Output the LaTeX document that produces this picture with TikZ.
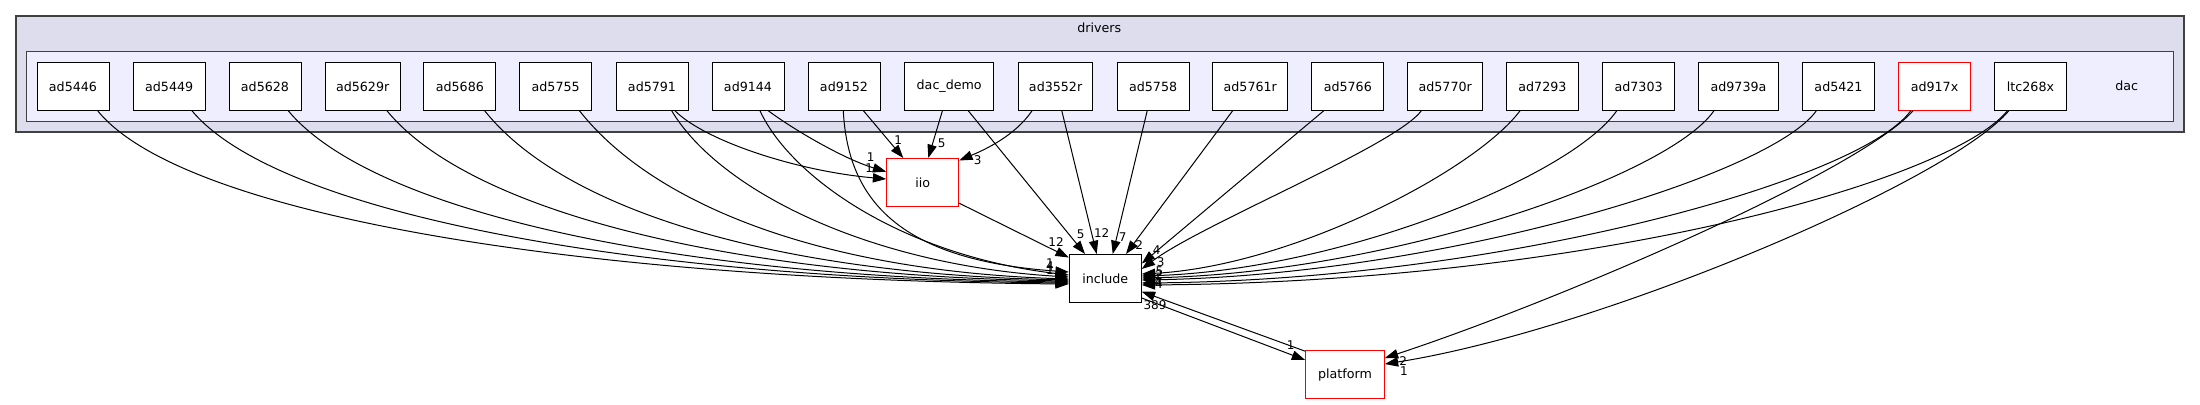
\documentclass[tikz,border=0pt]{standalone}
\usepackage{fontspec}
\setmainfont{DejaVu Sans}
\usetikzlibrary{arrows.meta,calc}
\definecolor{outerfill}{HTML}{DDDDEE}
\definecolor{innerfill}{HTML}{EEEEFF}
\definecolor{clborder}{HTML}{404040}
\begin{document}
\begin{tikzpicture}[x=0.75pt,y=-0.75pt,
  dirnode/.style={draw=black, fill=white, line width=0.75pt, minimum width=54pt, minimum height=36pt, inner sep=0pt, font=\fontsize{9.5}{11}\selectfont},
  rednode/.style={dirnode, draw=red},
  lbl/.style={font=\fontsize{9}{10}\selectfont, inner sep=0pt},
  cltext/.style={font=\fontsize{9.5}{11}\selectfont, inner sep=0pt},
  dep/.style={line width=0.75pt, -{Triangle[length=10pt,width=7pt]}},
  outercl/.style={draw=clborder, fill=outerfill, line width=1.3pt},
  innercl/.style={draw=clborder, fill=innerfill, line width=1pt}
]
\useasboundingbox (0,0) rectangle (2200,404);
% clusters
\draw[outercl] (15.7,15.7) rectangle (2184,132);
\draw[innercl] (26.3,51.7) rectangle (2173.3,121.3);
\node[cltext] (drv) at (1099.3,27.3) {drivers};
\node[cltext] (dac) at (2126.7,86) {dac};
% top row
\node[dirnode] (n5446) at (73,86.3) {ad5446};
\node[dirnode] (n5449) at (169.2,86.3) {ad5449};
\node[dirnode] (n5628) at (265,86.3) {ad5628};
\node[dirnode, minimum width=56.25pt] (n5629r) at (362.7,86.3) {ad5629r};
\node[dirnode] (n5686) at (459.9,86.3) {ad5686};
\node[dirnode] (n5755) at (555.7,86.3) {ad5755};
\node[dirnode] (n5791) at (652,86.3) {ad5791};
\node[dirnode] (n9144) at (748,86.3) {ad9144};
\node[dirnode] (n9152) at (844,86.3) {ad9152};
\node[dirnode, minimum width=66.9pt] (ndemo) at (949.2,86.3) {dac\_demo};
\node[dirnode, minimum width=56pt] (n3552r) at (1055.6,86.3) {ad3552r};
\node[dirnode] (n5758) at (1153.1,86.3) {ad5758};
\node[dirnode, minimum width=56.25pt] (n5761r) at (1250.3,86.3) {ad5761r};
\node[dirnode] (n5766) at (1347.8,86.3) {ad5766};
\node[dirnode, minimum width=56.25pt] (n5770r) at (1445.2,86.3) {ad5770r};
\node[dirnode] (n7293) at (1542.4,86.3) {ad7293};
\node[dirnode] (n7303) at (1638.6,86.3) {ad7303};
\node[dirnode, minimum width=59.5pt] (n9739a) at (1738.5,86.3) {ad9739a};
\node[dirnode] (n5421) at (1838.5,86.3) {ad5421};
\node[rednode] (n917x) at (1934.5,86.3) {ad917x};
\node[dirnode] (nltc) at (2030.5,86.3) {ltc268x};
% lower nodes
\node[rednode] (iio) at (922.7,182.5) {iio};
\node[dirnode] (inc) at (1105.3,278.5) {include};
\node[rednode, minimum width=59pt] (plat) at (1345,374.7) {platform};

% left group -> include (west)
\draw[dep] ($(n5446.south)+(24.7,0)$) .. controls +(85,105) and +(-486,-4) .. ($(inc.west)+(0,5.5)$);
\draw[dep] ($(n5449.south)+(22.8,0)$) .. controls +(85,102) and +(-439,-4) .. ($(inc.west)+(0,4.5)$);
\draw[dep] ($(n5628.south)+(23.3,0)$) .. controls +(85,102) and +(-390,-4) .. ($(inc.west)+(0,3.5)$);
\draw[dep] ($(n5629r.south)+(24.3,0)$) .. controls +(82,100) and +(-341,-5) .. ($(inc.west)+(0,2.5)$);
\draw[dep] ($(n5686.south)+(24.8,0)$) .. controls +(80,100) and +(-292,-6) .. ($(inc.west)+(0,1.5)$);
\draw[dep] ($(n5755.south)+(23.8,0)$) .. controls +(75,95) and +(-245,-8) .. ($(inc.west)+(0,0.5)$);
\draw[dep] ($(n5791.south)+(19.7,0)$) .. controls +(48,80) and +(-199,-12) .. ($(inc.west)+(0,-1.5)$);
\draw[dep] ($(n9144.south)+(12,0)$) .. controls +(30,65) and +(-169,-20) .. ($(inc.west)+(0,-3.5)$);
\draw[dep] ($(n9152.south)+(-0.7,0)$) .. controls +(4.7,90) and +(-169,-12) .. ($(inc.west)+(0,-6.5)$);
% -> iio
\draw[dep] ($(n5791.south)+(23,0)$) .. controls +(30,30) and +(-90,-8) .. ($(iio.west)+(0,-3.5)$);
\draw[dep] ($(n9144.south)+(20.3,0)$) .. controls +(30,22) and +(-40,-12) .. ($(iio.west)+(0,-10.8)$);
\draw[dep] ($(n9152.south)+(19.5,0)$) -- ($(iio.north)+(-19.4,0)$);
\draw[dep] ($(ndemo.south)+(-6.8,0)$) -- ($(iio.north)+(5.6,0)$);
\draw[dep] ($(n3552r.south)+(-23.6,0)$) .. controls +(-17,25) and +(26,-11) .. ($(iio.north east)+(0,2.5)$);
% middle -> include (north)
\draw[dep] ($(iio.south east)+(0,-3.8)$) -- ($(inc.north west)+(0,3.5)$);
\draw[dep] ($(ndemo.south)+(19.1,0)$) -- ($(inc.north)+(-20.3,0)$);
\draw[dep] ($(n3552r.south)+(6.2,0)$) -- ($(inc.north)+(-8.6,0)$);
\draw[dep] ($(n5758.south)+(-5.9,0)$) -- ($(inc.north)+(7.4,0)$);
\draw[dep] ($(n5761r.south)+(-17.7,0)$) -- ($(inc.north)+(20.7,0)$);
\draw[dep] ($(n5766.south)+(-24.1,0)$) -- ($(inc.north east)+(0,9.5)$);
% right group -> include (east)
\draw[dep] ($(n5770r.south)+(-23.9,0)$) .. controls +(-26,35) and +(60,-45) .. ($(inc.east)+(0,-9.5)$);
\draw[dep] ($(n7293.south)+(-22.4,0)$) .. controls +(-45,60) and +(150,-8) .. ($(inc.east)+(0,-4.5)$);
\draw[dep] ($(n7303.south)+(-21.9,0)$) .. controls +(-45,65) and +(200,-6) .. ($(inc.east)+(0,-2.5)$);
\draw[dep] ($(n9739a.south)+(-24.6,0)$) .. controls +(-45,65) and +(250,-5) .. ($(inc.east)+(0,-0.5)$);
\draw[dep] ($(n5421.south)+(-22.2,0)$) .. controls +(-46,65) and +(300,-5) .. ($(inc.east)+(0,1.5)$);
\draw[dep] ($(n917x.south)+(-23.8,0)$) .. controls +(-50.7,70) and +(360,-3) .. ($(inc.east)+(0,4.5)$);
\draw[dep] ($(nltc.south)+(-23.1,0)$) .. controls +(-57,70) and +(450,-3) .. ($(inc.east)+(0,6.5)$);
% -> platform
\draw[dep] ($(n917x.south)+(-21.5,0)$) .. controls +(-53,60) and +(175.7,-58) .. ($(plat.east)+(0,-16.7)$);
\draw[dep] ($(nltc.south)+(-21.7,0)$) .. controls +(-58.8,70) and +(215.7,-34) .. ($(plat.east)+(0,-10.7)$);
% include <-> platform
\draw[dep] ($(plat.north west)+(0,1)$) -- ($(inc.east)+(0,13.2)$);
\draw[dep] ($(inc.east)+(0,19.5)$) -- ($(plat.west)+(0,-14.7)$);

% head labels
\node[lbl] (l1) at (869.3,168.3) {1};
\node[lbl] (l2) at (870.7,156.7) {1};
\node[lbl] (l3) at (898.3,140) {1};
\node[lbl] (l4) at (941.7,143.3) {5};
\node[lbl] (l5) at (977.7,160) {3};
\node[lbl] (l6) at (1056,241.7) {12};
\node[lbl] (l7) at (1080.7,234) {5};
\node[lbl] (l8) at (1101.7,232.7) {12};
\node[lbl] (l9) at (1122.7,237) {7};
\node[lbl] (l10) at (1139.3,245) {2};
\node[lbl] (l11) at (1156.7,250) {4};
\node[lbl] (l12) at (1160.7,262) {3};
\node[lbl] (l13) at (1159.5,271) {5};
\node[lbl] (l14) at (1159,275) {2};
\node[lbl] (l15) at (1158.5,282) {4};
\node[lbl] (l16) at (1159,284) {4};
\node[lbl] (l17) at (1050,263) {1};
\node[lbl] (l18) at (1050,266) {4};
\node[lbl] (l19) at (1050,270) {1};
\node[lbl] (l20) at (1155,305) {389};
\node[lbl] (l21) at (1290.7,345) {1};
\node[lbl] (l22) at (1403.3,361) {2};
\node[lbl] (l23) at (1404,370.7) {1};
\end{tikzpicture}
\end{document}
